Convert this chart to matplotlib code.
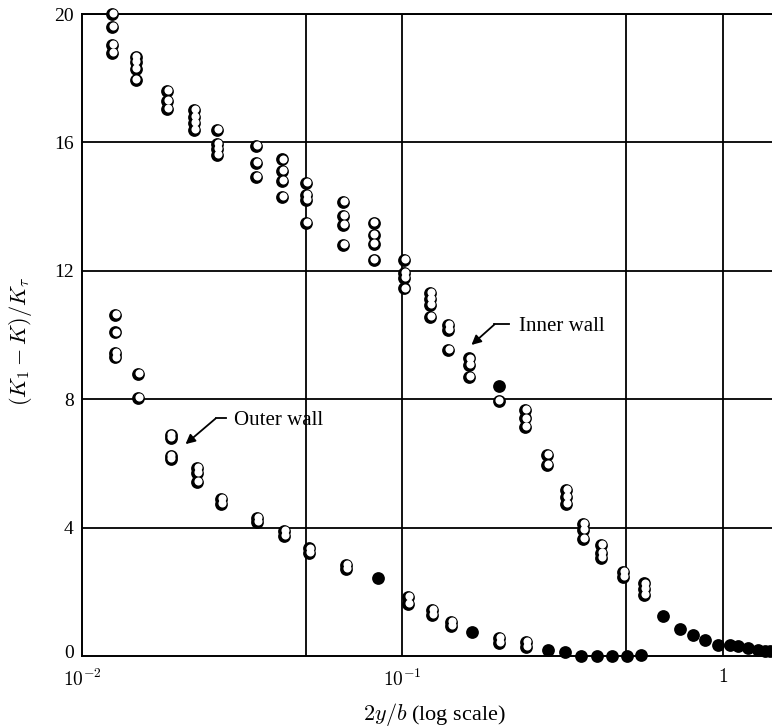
import matplotlib
matplotlib.use("Agg")
import matplotlib.pyplot as plt
import matplotlib.transforms as mtransforms
import numpy as np

plt.rcParams["font.family"] = ["Liberation Serif", "DejaVu Serif"]
plt.rcParams["mathtext.fontset"] = "cm"

# Inner wall, open symbols
inner_x = [0.0124, 0.0124, 0.0124, 0.0124,
           0.0147, 0.0147, 0.0147, 0.0147,
           0.0184, 0.0184, 0.0184,
           0.0224, 0.0224, 0.0224, 0.0224,
           0.0264, 0.0264, 0.0264, 0.0264,
           0.0349, 0.0349, 0.0349,
           0.0421, 0.0421, 0.0421, 0.0421,
           0.0502, 0.0502, 0.0502, 0.0502,
           0.0655, 0.0655, 0.0655, 0.0655,
           0.0813, 0.0813, 0.0813, 0.0813,
           0.1015, 0.1015, 0.1015, 0.1015,
           0.1217, 0.1217, 0.1217, 0.1217,
           0.1393, 0.1393, 0.1393,
           0.162, 0.162, 0.162,
           0.1997,
           0.242, 0.242, 0.242,
           0.283, 0.283,
           0.3235, 0.3235, 0.3235,
           0.3664, 0.3664, 0.3664,
           0.416, 0.416, 0.416,
           0.489, 0.489,
           0.5685, 0.5685, 0.5685]
inner_y = [20.0, 19.6, 19.05, 18.8,
           18.65, 18.5, 18.3, 17.95,
           17.6, 17.3, 17.05,
           17.0, 16.8, 16.6, 16.4,
           16.4, 15.95, 15.8, 15.6,
           15.88, 15.36, 14.92,
           15.47, 15.12, 14.8, 14.3,
           14.73, 14.37, 14.2, 13.48,
           14.15, 13.7, 13.43, 12.8,
           13.5, 13.12, 12.83, 12.34,
           12.34, 11.92, 11.77, 11.45,
           11.3, 11.13, 10.93, 10.57,
           10.3, 10.15, 9.53,
           9.27, 9.07, 8.68,
           7.95,
           7.66, 7.4, 7.14,
           6.26, 5.95,
           5.17, 4.96, 4.74,
           4.11, 3.93, 3.64,
           3.46, 3.2, 3.04,
           2.63, 2.45,
           2.26, 2.08, 1.9]

# Inner wall, solid symbols
inner_solid_x = [0.1997, 0.652, 0.734, 0.809, 0.88, 0.968, 1.058, 1.118, 1.2, 1.29, 1.357, 1.41]
inner_solid_y = [8.41, 1.25, 0.84, 0.65, 0.5, 0.34, 0.34, 0.32, 0.24, 0.19, 0.17, 0.17]

# Outer wall, open symbols
outer_x = [0.0127, 0.0127, 0.0127, 0.0127,
           0.0150, 0.0150,
           0.0189, 0.0189, 0.0189, 0.0189,
           0.0228, 0.0228, 0.0228,
           0.0271, 0.0271,
           0.0353, 0.0353,
           0.0427, 0.0427,
           0.0512, 0.0512,
           0.0669, 0.0669,
           0.1039, 0.1039,
           0.1239, 0.1239,
           0.142, 0.142,
           0.2011, 0.2011,
           0.2436, 0.2436]
outer_y = [10.62, 10.08, 9.45, 9.3,
           8.8, 8.03,
           6.9, 6.78, 6.23, 6.13,
           5.85, 5.69, 5.43,
           4.9, 4.75,
           4.3, 4.17,
           3.9, 3.75,
           3.35, 3.2,
           2.83, 2.7,
           1.85, 1.62,
           1.43, 1.28,
           1.07, 0.93,
           0.55, 0.4,
           0.45, 0.29]

# Outer wall, solid symbols
outer_solid_x = [0.0837, 0.1647, 0.2848, 0.3212, 0.3622, 0.4064, 0.4515, 0.503, 0.5579]
outer_solid_y = [2.42, 0.76, 0.19, 0.12, 0.0, 0.0, 0.0, 0.0, 0.02]

x_ticks = [0.01, 0.1, 1.0]
x_tick_labels = [r"$10^{-2}$", r"$10^{-1}$", r"$1$"]
y_ticks = [0, 4, 8, 12, 16, 20]
x_grid = [0.05, 0.1, 0.5, 1.0]
y_grid = [4, 8, 12, 16, 20]

fig = plt.figure(figsize=(7.72, 7.27), dpi=100)
ax = fig.add_axes([0.1062, 0.0977, 0.8938, 0.883])
ax.set_xscale("log")
ax.set_xlim(0.01, 1.426)
ax.set_ylim(0, 20)

for gx in x_grid:
    ax.axvline(gx, color="black", lw=1.3, zorder=1)
for gy in y_grid:
    ax.axhline(gy, color="black", lw=1.3, zorder=1)

# Open symbols: black disc with an off-centre white core
core = mtransforms.offset_copy(ax.transData, fig=fig, x=0.9, y=0.9, units="dots")
for xs, ys in [(inner_x, inner_y), (outer_x, outer_y)]:
    ax.plot(xs, ys, "o", ms=9.2, mfc="black", mec="black", mew=0, zorder=3, clip_on=False)
    ax.plot(xs, ys, "o", ms=5.8, mfc="white", mec="white", mew=0, zorder=4,
            transform=core, clip_on=False)

for xs, ys in [(inner_solid_x, inner_solid_y), (outer_solid_x, outer_solid_y)]:
    ax.plot(xs, ys, "o", ms=9.2, mfc="black", mec="black", mew=0, zorder=3, clip_on=False)

for s in ["left", "bottom", "top"]:
    ax.spines[s].set_linewidth(1.4)
ax.spines["right"].set_visible(False)

ax.set_xticks(x_ticks)
ax.set_xticklabels(x_tick_labels)
ax.xaxis.set_minor_locator(matplotlib.ticker.NullLocator())
ax.set_yticks(y_ticks)
ax.set_yticklabels([str(v) for v in y_ticks])
ax.tick_params(length=0, labelsize=14)
ax.tick_params(axis="y", pad=6)
ax.tick_params(axis="x", pad=9)

# lift the "0" label a little so it sits clear of the 10^-2 label below it
zero_label = ax.get_yticklabels()[0]
zero_label.set_transform(zero_label.get_transform() +
                         mtransforms.ScaledTranslation(0, 4 / 100, fig.dpi_scale_trans))

ax.set_xlabel(r"$2y/b$ (log scale)", fontsize=16)
ax.xaxis.set_label_coords(0.51, -0.07)
ax.set_ylabel(r"$(K_1 - K)/K_\tau$", fontsize=16)
ax.yaxis.set_label_coords(-0.07, 0.49)

# Labels with bent leader arrows
ax.text(0.232, 10.28, "Inner wall", fontsize=15, va="center", ha="left")
ax.plot([0.216, 0.194], [10.33, 10.33], color="black", lw=1.3)
ax.annotate("", xy=(0.1644, 9.69), xytext=(0.194, 10.33),
            arrowprops=dict(arrowstyle="-|>", color="black", lw=1.3, mutation_scale=14,
                            shrinkA=0, shrinkB=0))

ax.text(0.0298, 7.35, "Outer wall", fontsize=15, va="center", ha="left")
ax.plot([0.0281, 0.02614], [7.4, 7.4], color="black", lw=1.3)
ax.annotate("", xy=(0.02105, 6.6), xytext=(0.02614, 7.4),
            arrowprops=dict(arrowstyle="-|>", color="black", lw=1.3, mutation_scale=14,
                            shrinkA=0, shrinkB=0))

fig.savefig("out.png", dpi=100)
